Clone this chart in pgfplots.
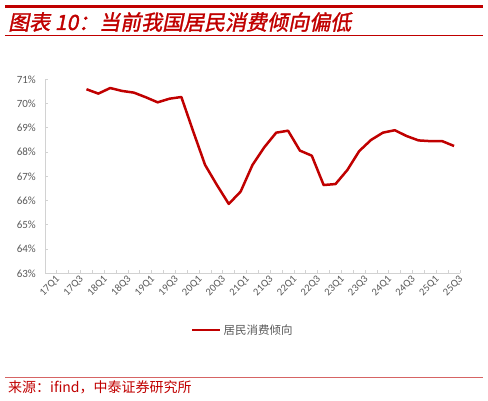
\documentclass[border=0pt]{standalone}
\usepackage{fontspec}
\setmainfont{Carlito}
\newfontfamily\cjk{Noto Sans CJK SC}
\newfontfamily\cjktitle[FakeSlant=0.2,FakeBold=1.5]{Noto Sans CJK SC}
\usepackage{pgfplots}
\pgfplotsset{compat=1.18}
\definecolor{cred}{RGB}{192,0,0}
\definecolor{lred}{RGB}{214,100,100}
\definecolor{axgray}{RGB}{210,210,210}
\definecolor{txtgray}{RGB}{89,89,89}
\begin{document}
\begin{tikzpicture}
\useasboundingbox (0,0) rectangle (488pt,401pt);
\fill[cred] (5pt,392.8pt) rectangle (483pt,395.8pt);
\fill[cred] (5pt,364.8pt) rectangle (483pt,365.8pt);
\node[anchor=base west, text=cred, font=\cjktitle\fontsize{21}{21}\selectfont, inner sep=0pt] at (8pt,371pt) {图表 10：当前我国居民消费倾向偏低};
\fill[lred] (5pt,23.2pt) rectangle (483pt,24.2pt);
\node[anchor=base west, text=cred, font=\cjk\fontsize{14}{14}\selectfont, inner sep=0pt] at (8pt,8.5pt) {来源：ifind，中泰证券研究所};
\begin{axis}[
  at={(45pt,127.7pt)}, anchor=south west,
  scale only axis, width=415pt, height=194pt,
  xmin=-0.5, xmax=34.5, ymin=63, ymax=71,
  axis x line*=bottom, axis y line*=left,
  axis line style={draw=axgray, line width=0.8pt},
  xtick={0,2,...,34},
  xticklabels={17Q1,17Q3,18Q1,18Q3,19Q1,19Q3,20Q1,20Q3,21Q1,21Q3,22Q1,22Q3,23Q1,23Q3,24Q1,24Q3,25Q1,25Q3},
  minor xtick={-0.5,0.5,...,34.5},
  ytick={63,...,71},
  minor ytick={63,...,71},
  yticklabels={63\%,64\%,65\%,66\%,67\%,68\%,69\%,70\%,71\%},
  major tick length=0pt, minor tick length=3pt,
  minor tick style={draw=axgray, line width=0.8pt},
  tick align=inside,
  xticklabel style={rotate=45, anchor=north east, font=\fontsize{10.5}{10.5}\selectfont, text=txtgray, inner sep=0pt, xshift=2pt, yshift=-4pt},
  yticklabel style={font=\fontsize{11}{11}\selectfont, text=txtgray, inner sep=1pt, xshift=-8pt},
  legend style={at={(0.477,-0.292)}, anchor=center, draw=none, fill=none, font=\cjk\fontsize{11.5}{12}\selectfont, text=txtgray},
  legend image code/.code={\draw[#1, line width=2.5pt] (0pt,0pt) -- (28pt,0pt);},
]
\addplot[cred, line width=2.5pt, line join=round] coordinates {
(3,70.59) (4,70.41) (5,70.64) (6,70.52) (7,70.45) (8,70.26) (9,70.05) (10,70.2) (11,70.27)
(12,68.85) (13,67.47) (14,66.64) (15,65.86) (16,66.37) (17,67.47) (18,68.2) (19,68.8)
(20,68.88) (21,68.06) (22,67.85) (23,66.64) (24,66.68) (25,67.26) (26,68.04) (27,68.5)
(28,68.8) (29,68.9) (30,68.66) (31,68.48) (32,68.45) (33,68.45) (34,68.25)
};
\addlegendentry{居民消费倾向}
\end{axis}
\end{tikzpicture}
\end{document}
